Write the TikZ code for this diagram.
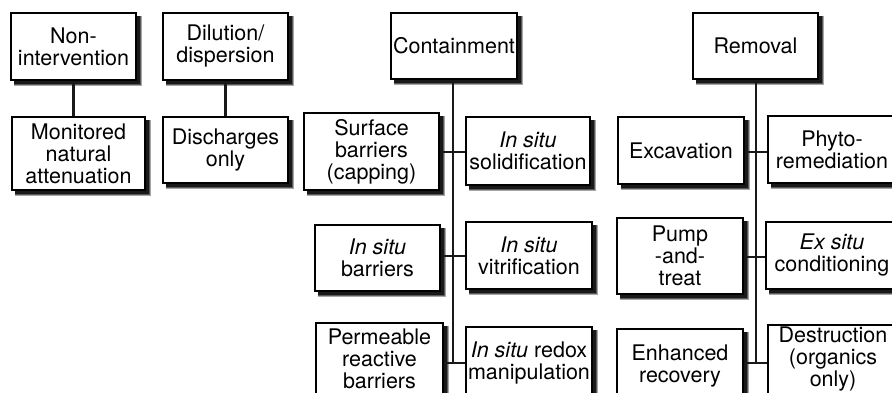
\documentclass[tikz,border=0pt]{standalone}
\usepackage{fontspec}
\setmainfont{TeX Gyre Heros}
\begin{document}
\begin{tikzpicture}[x=1pt,y=-1pt,
  box/.style={draw=black, line width=1.4pt, fill=white, align=center,
    inner sep=1pt, font=\fontsize{21.5pt}{22pt}\selectfont},
  link/.style={line width=2.4pt, draw=black!90}]
\useasboundingbox (0,0) rectangle (892,393);
\clip (0,0) rectangle (892,393);

% Shadow rectangles (offset copies of each box outline), drawn first
\newcommand\shadowbox[4]{%
  \fill[black!35] (#1+3,#2+3) rectangle (#3+6,#4+6);
  \fill[black!65] (#1+3,#2+3) rectangle (#3+4.8,#4+4.8);
  \fill[black!90] (#1+3,#2+3) rectangle (#3+3.6,#4+3.6);}
\shadowbox{11}{13}{136}{80}
\shadowbox{163}{13}{288}{80}
\shadowbox{391}{13}{517}{79}
\shadowbox{693}{13}{818}{79}
\shadowbox{12}{117}{145}{190}
\shadowbox{163}{117}{288}{183}
\shadowbox{304}{113}{439}{190}
\shadowbox{466}{117}{590}{185}
\shadowbox{315}{225}{440}{291}
\shadowbox{466}{222}{592}{289}
\shadowbox{316}{323}{443}{395}
\shadowbox{466}{327}{592}{399}
\shadowbox{618}{117}{744}{184}
\shadowbox{768}{116}{896}{183}
\shadowbox{617}{218}{743}{294}
\shadowbox{766}{222}{898}{289}
\shadowbox{617}{329}{743}{404}
\shadowbox{768}{325}{898}{394}

% Top-level options
\node[box, minimum width=125pt, minimum height=67pt] (nonint) at (73.5,46.5) {Non-\\intervention};
\node[box, minimum width=125pt, minimum height=67pt] (dilut) at (225.5,46.5) {Dilution/\\dispersion};
\node[box, minimum width=126pt, minimum height=66pt] (contain) at (454,46) {Containment};
\node[box, minimum width=125pt, minimum height=66pt] (remov) at (755.5,46) {Removal};

% Non-intervention and dilution
\node[box, minimum width=133pt, minimum height=73pt] (mna) at (78.5,153.5) {Monitored\\natural\\attenuation};
\node[box, minimum width=125pt, minimum height=66pt] (disch) at (225.5,150) {Discharges\\only};

% Containment techniques
\node[box, minimum width=135pt, minimum height=77pt] (surf) at (371.5,151.5) {Surface\\barriers\\(capping)};
\node[box, minimum width=124pt, minimum height=68pt] (solid) at (528,151) {\textit{In situ}\\solidification};
\node[box, minimum width=125pt, minimum height=66pt] (isbar) at (377.5,258) {\textit{In situ}\\barriers};
\node[box, minimum width=126pt, minimum height=67pt] (vitri) at (529,255.5) {\textit{In situ}\\vitrification};
\node[box, minimum width=127pt, minimum height=72pt] (perm) at (379.5,359) {Permeable\\reactive\\barriers};
\node[box, minimum width=126pt, minimum height=72pt] (redox) at (529,363) {\textit{In situ} redox\\manipulation};

% Removal techniques
\node[box, minimum width=126pt, minimum height=67pt] (excav) at (681,150.5) {Excavation};
\node[box, minimum width=128pt, minimum height=67pt] (phyto) at (832,149.5) {Phyto-\\remediation};
\node[box, minimum width=126pt, minimum height=76pt] (pump) at (680,256) {Pump\\-and-\\treat};
\node[box, minimum width=132pt, minimum height=67pt] (exsitu) at (832,255.5) {\textit{Ex situ}\\conditioning};
\node[box, minimum width=126pt, minimum height=75pt] (enh) at (680,366.5) {Enhanced\\recovery};
\node[box, minimum width=130pt, minimum height=69pt] (destr) at (833,359.5) {Destruction\\(organics\\only)};

% Branch levels
\coordinate (c1) at (453,152);
\coordinate (c2) at (453,256);
\coordinate (c3) at (453,363);
\coordinate (r1) at (756,152);
\coordinate (r2) at (756,257);
\coordinate (r3) at (756,363);

% Connectors
\draw[link] (nonint.south) -- (nonint.south |- mna.north);
\draw[link] (dilut.south) -- (dilut.south |- disch.north);

\draw[link] (contain.south -| c1) -- (c3);
\draw[link] (surf.east |- c1) -- (solid.west |- c1);
\draw[link] (isbar.east |- c2) -- (vitri.west |- c2);
\draw[link] (perm.east |- c3) -- (redox.west |- c3);

\draw[link] (remov.south -| r1) -- (r3);
\draw[link] (excav.east |- r1) -- (phyto.west |- r1);
\draw[link] (pump.east |- r2) -- (exsitu.west |- r2);
\draw[link] (enh.east |- r3) -- (destr.west |- r3);
\end{tikzpicture}
\end{document}
